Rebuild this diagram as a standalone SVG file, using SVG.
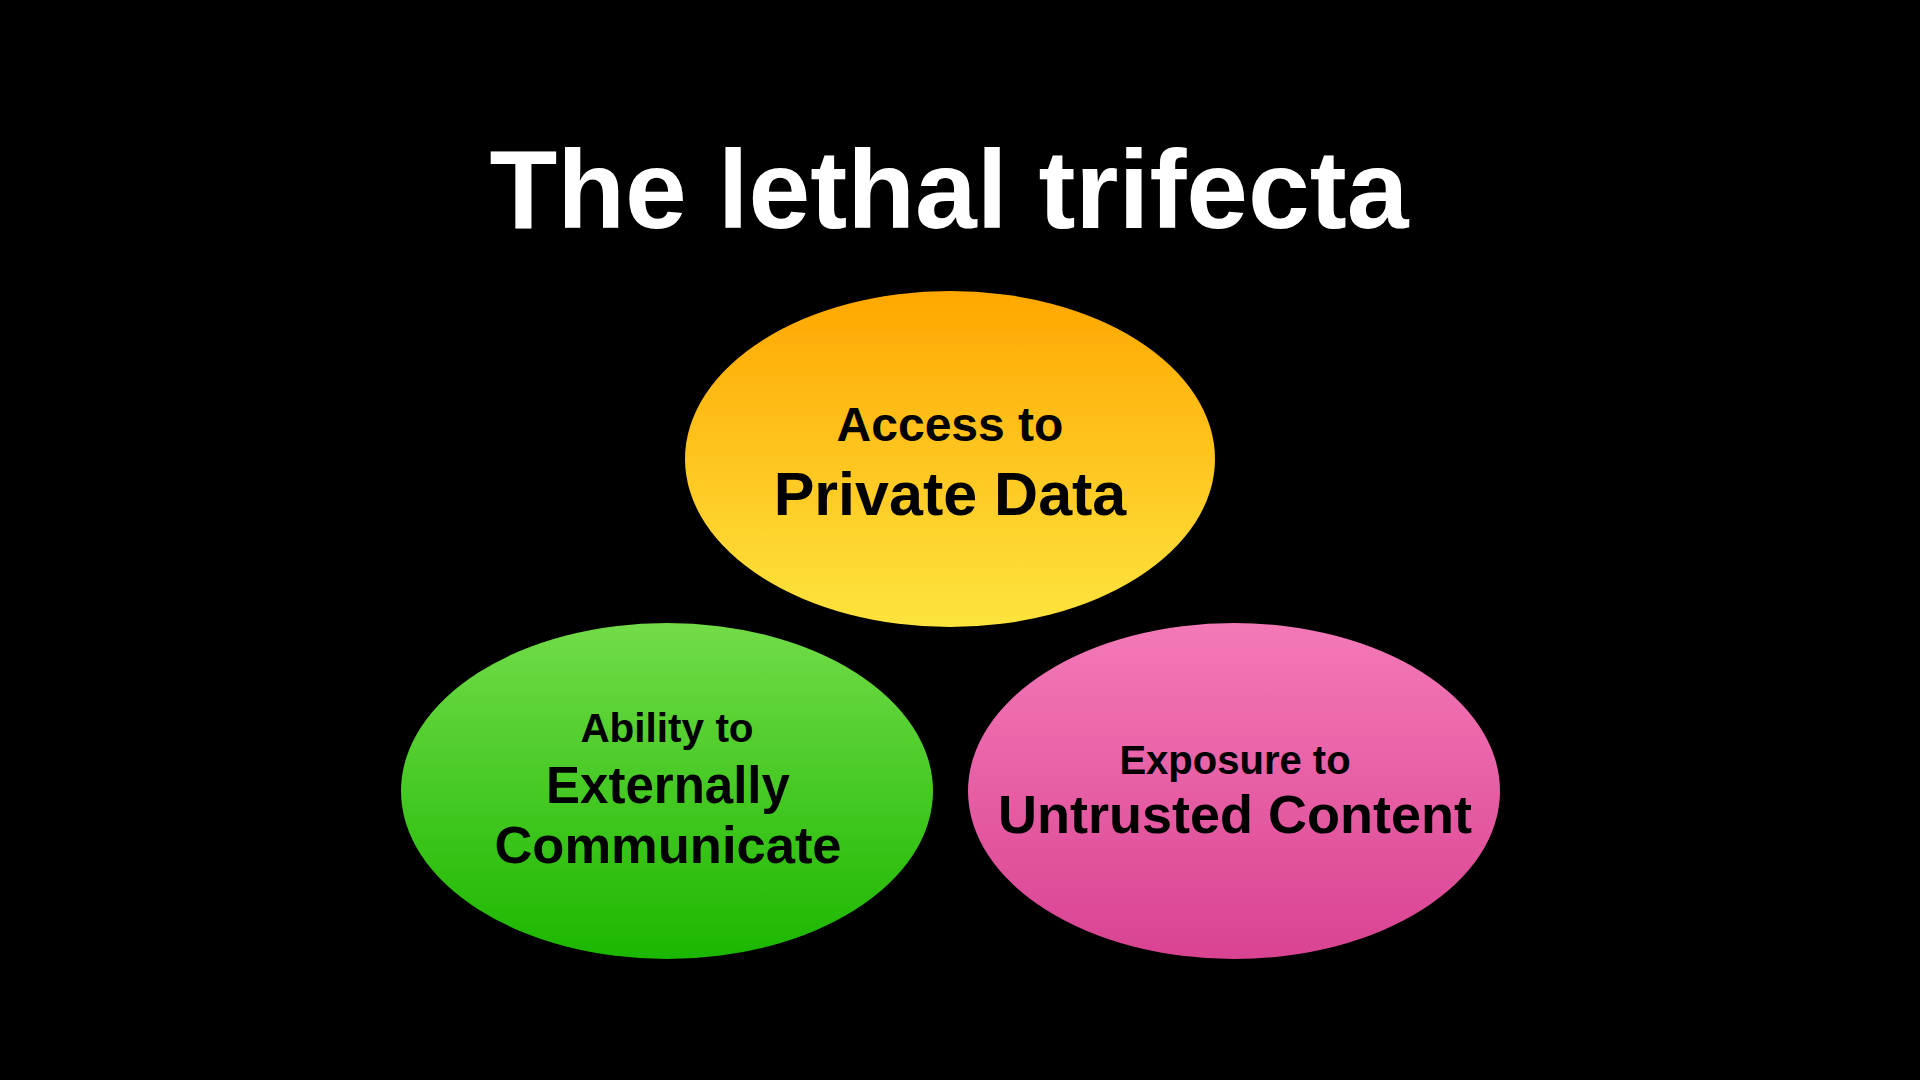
<svg xmlns="http://www.w3.org/2000/svg" width="1920" height="1080" viewBox="0 0 1920 1080">
  <style>
    .title { font-family: "Liberation Sans", Arial, sans-serif; font-weight: bold; fill: #ffffff; text-anchor: middle; }
    .lbl { font-family: "Liberation Sans", Arial, sans-serif; font-weight: bold; fill: #000000; text-anchor: middle; }
  </style>
  <defs>
    <linearGradient id="gOrange" x1="0" y1="0" x2="0" y2="1">
      <stop offset="0" stop-color="#FFA700"/>
      <stop offset="1" stop-color="#FDE43E"/>
    </linearGradient>
    <linearGradient id="gGreen" x1="0" y1="0" x2="0" y2="1">
      <stop offset="0" stop-color="#72DC48"/>
      <stop offset="1" stop-color="#1BB700"/>
    </linearGradient>
    <linearGradient id="gPink" x1="0" y1="0" x2="0" y2="1">
      <stop offset="0" stop-color="#F479B7"/>
      <stop offset="1" stop-color="#D94392"/>
    </linearGradient>
  </defs>
  <rect x="0" y="0" width="1920" height="1080" fill="#000000"/>
  <text class="title" x="949" y="228" font-size="111">The lethal trifecta</text>
  <g id="connectors"></g>
  <g id="node-private-data">
    <ellipse cx="950" cy="459" rx="265" ry="168" fill="url(#gOrange)"/>
    <text class="lbl" x="950" y="441" font-size="48">Access to</text>
    <text class="lbl" x="950" y="515" font-size="61">Private Data</text>
  </g>
  <g id="node-external-comm">
    <ellipse cx="667" cy="791" rx="266" ry="168" fill="url(#gGreen)"/>
    <text class="lbl" x="667" y="742" font-size="40.5">Ability to</text>
    <text class="lbl" x="668" y="803" font-size="51">Externally</text>
    <text class="lbl" x="668" y="863" font-size="52.5">Communicate</text>
  </g>
  <g id="node-untrusted">
    <ellipse cx="1234" cy="791" rx="266" ry="168" fill="url(#gPink)"/>
    <text class="lbl" x="1235" y="774" font-size="40">Exposure to</text>
    <text class="lbl" x="1235" y="833" font-size="54">Untrusted Content</text>
  </g>
</svg>
